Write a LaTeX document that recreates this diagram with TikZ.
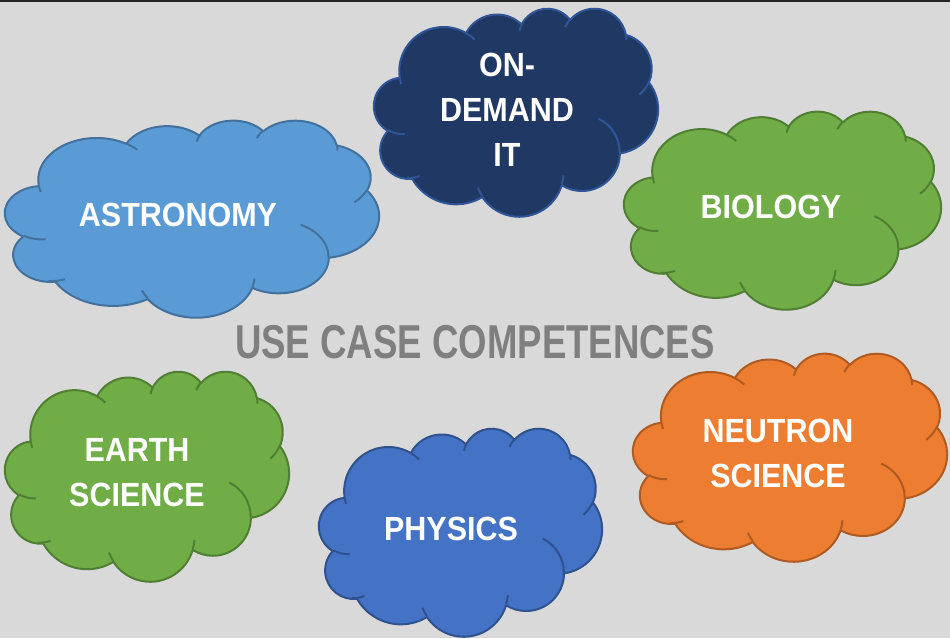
\documentclass[tikz,border=0pt]{standalone}
\usepackage{fontspec}
\usepackage{tikz}
\newfontfamily\labelfont[FakeStretch=0.91]{Liberation Sans}
\newfontfamily\titlefont[FakeStretch=0.77]{Liberation Sans}

\definecolor{backgrey}{HTML}{D9D9D9}
\definecolor{titlegrey}{HTML}{7F7F7F}
\definecolor{astroFill}{HTML}{5B9BD5}
\definecolor{astroLine}{HTML}{41719C}
\definecolor{itFill}{HTML}{203864}
\definecolor{itLine}{HTML}{2F5597}
\definecolor{greenFill}{HTML}{70AD47}
\definecolor{greenLine}{HTML}{507E32}
\definecolor{physFill}{HTML}{4472C4}
\definecolor{physLine}{HTML}{2F528F}
\definecolor{neutFill}{HTML}{ED7D31}
\definecolor{neutLine}{HTML}{AE5A21}

% one puff of the cloud: radii, start angle, sweep (y down)
\newcommand\cloudarc[4]{arc[x radius=#1, y radius=#2,
  start angle={atan2(#1*sin(#3),#2*cos(#3))},
  delta angle={mod(atan2(#1*sin(#3+#4),#2*cos(#3+#4))-atan2(#1*sin(#3),#2*cos(#3))+720,360)}]}

\newcommand\cloudoutline{(9.0278,33.2639)
  \cloudarc{15.632}{21.273}{-190.4875}{123.7805}
  \cloudarc{12.345}{16.822}{-144.1024}{89.9452}
  \cloudarc{10.104}{13.762}{-145.8079}{99.7230}
  \cloudarc{11.243}{15.266}{-130.9861}{117.2417}
  \cloudarc{12.345}{16.836}{-78.7089}{109.0269}
  \cloudarc{15.683}{21.343}{-46.2673}{130.2690}
  \cloudarc{13.391}{18.211}{0.6250}{114.0333}
  \cloudarc{15.630}{21.331}{22.4516}{115.1726}
  \cloudarc{17.870}{24.405}{66.2426}{75.7110}
  \cloudarc{10.093}{13.699}{-274.9421}{146.7356}
  \cloudarc{10.058}{13.762}{-246.8285}{152.5226} -- cycle}

\newcommand\cloudcreases{
  (10.8634,60.5949) \cloudarc{10.058}{13.762}{86.742}{26.4295}
  (16.0370,80.7847) \cloudarc{10.093}{13.699}{73.6105}{19.1948}
  (38.1435,90.4861) \cloudarc{15.630}{21.331}{137.6242}{14.0811}
  (66.7292,80.4421) \cloudarc{15.630}{21.331}{6.4533}{15.9984}
  (79.0023,53.1343) \cloudarc{13.391}{18.211}{-70.2924}{70.9174}
  (96.7546,35.5417) \cloudarc{12.345}{16.836}{30.3180}{27.7515}
  (88.7130,12.5602) \cloudarc{11.243}{15.266}{-13.7443}{14.8589}
  (67.3102,9.1481) \cloudarc{11.243}{15.266}{-149.1815}{18.1954}
  (51.2523,10.9259) \cloudarc{10.104}{13.762}{-163.4943}{17.6864}
  (32.4074,12.0185) \cloudarc{15.632}{21.273}{-66.7070}{12.3194}
  (9.5532,36.5486) \cloudarc{15.632}{21.273}{157.6544}{11.8582}}

% left, top, width, height, fill, line
\newcommand\drawcloud[6]{%
  \begin{scope}[shift={(#1,-#2)}, xscale=#3/100, yscale=-#4/100]
    \filldraw[puffy={#5}{#6}] \cloudoutline;
    \draw[crease=#6] \cloudcreases;
  \end{scope}}

\tikzset{
  puffy/.style 2 args={fill=#1, draw=#2, line width=2pt},
  crease/.style={draw=#1, line width=2pt},
  cloudlabel/.style={text=white, font=\labelfont\bfseries\fontsize{33.5}{45}\selectfont, align=center, inner sep=0pt}
}

\begin{document}
\begin{tikzpicture}[x=1pt, y=1pt, line join=round]
\useasboundingbox (0,0) rectangle (950,-638);
\fill[backgrey] (0,0) rectangle (950,-638);
\draw[line width=2pt, black!85] (0,-1) -- (950,-1);

\drawcloud{5}{120}{374}{197}{astroFill}{astroLine}
\drawcloud{374}{8}{284}{208}{itFill}{itLine}
\drawcloud{624}{111}{317}{198}{greenFill}{greenLine}
\drawcloud{5}{371}{284}{210}{greenFill}{greenLine}
\drawcloud{319}{428}{283}{208}{physFill}{physLine}
\drawcloud{633}{353}{314}{208}{neutFill}{neutLine}

\node[cloudlabel] (astronomy) at (178,-215) {ASTRONOMY};
\node[cloudlabel] (ondemand) at (507,-110) {ON-\\DEMAND\\IT};
\node[cloudlabel] (biology) at (771,-207) {BIOLOGY};
\node[cloudlabel] (earth) at (137,-473) {EARTH\\SCIENCE};
\node[cloudlabel] (physics) at (451,-529) {PHYSICS};
\node[cloudlabel] (neutron) at (778,-453) {NEUTRON\\SCIENCE};

\node[text=titlegrey, inner sep=0pt, font=\titlefont\bfseries\fontsize{47.5}{50}\selectfont] (title) at (475,-342) {USE CASE COMPETENCES};
\end{tikzpicture}
\end{document}
